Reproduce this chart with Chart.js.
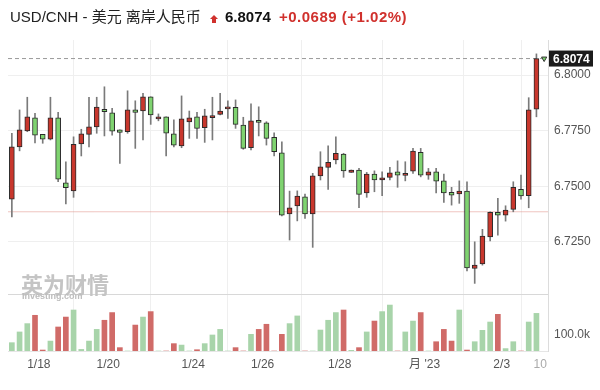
<!DOCTYPE html>
<html>
<head>
<meta charset="utf-8">
<script src="https://cdn.jsdelivr.net/npm/chart.js@4.4.1/dist/chart.umd.min.js"></script>
<style>
  body { margin: 0; background: #fff; font-family: "Liberation Sans", "Noto Sans CJK SC", sans-serif; }
  #wrap { position: relative; width: 600px; height: 390px; overflow: hidden; }
  #chart { position: absolute; left: 0; top: 0; }
  .t { position: absolute; white-space: nowrap; line-height: 18px; top: 8px; }
  #name { left: 10px; font-size: 15px; color: #222; }
  #arrow { position: absolute; left: 210px; top: 15px; }
  #last { left: 225px; font-size: 15px; font-weight: bold; color: #111; }
  #chg { left: 279px; font-size: 15px; font-weight: 600; color: #d0312d; letter-spacing: 0.5px; }
  #wm1 { position: absolute; left: 21px; top: 267px; font-size: 22px; font-weight: bold; color: #c4c4c4; }
  #wm2 { position: absolute; left: 22px; top: 291px; font-size: 9px; font-weight: bold; color: #bdbdbd; }
</style>
</head>
<body>
<div id="wrap">
  <canvas id="chart" width="600" height="390"></canvas>
  <div class="t" id="name">USD/CNH - 美元 离岸人民币</div>
  <svg id="arrow" width="8" height="8" viewBox="0 0 8 8"><polygon points="4,0 8,4 6,4 6,8 2,8 2,4 0,4" fill="#d0312d"/></svg>
  <div class="t" id="last">6.8074</div>
  <div class="t" id="chg">+0.0689 (+1.02%)</div>
  <div id="wm1">英为财情</div>
  <div id="wm2">Investing.com</div>
</div>
<script>
// candles, oldest first
const opens  = [6.7442,6.7677,6.7749,6.7808,6.7733,6.7711,6.7808,6.7515,6.7479,6.7690,
                6.7733,6.7767,6.7846,6.7830,6.7753,6.7745,6.7843,6.7838,6.7902,6.7802,
                6.7812,6.7735,6.7681,6.7789,6.7812,6.7763,6.7808,6.7823,6.7848,6.7855,
                6.7775,6.7673,6.7796,6.7785,6.7720,6.7650,6.7375,6.7411,6.7452,6.7375,
                6.7546,6.7585,6.7618,6.7645,6.7562,6.7573,6.7470,6.7555,6.7528,6.7540,
                6.7565,6.7549,6.7568,6.7652,6.7550,6.7565,6.7524,6.7472,6.7465,6.7478,
                6.7130,6.7150,6.7272,6.7382,6.7370,6.7396,6.7486,6.7457,6.7846];
const highs  = [6.7738,6.7843,6.7900,6.7828,6.7733,6.7900,6.7832,6.7610,6.7722,6.7756,
                6.7900,6.7900,6.7947,6.7850,6.7753,6.7929,6.7884,6.7918,6.7902,6.7825,
                6.7812,6.7798,6.7906,6.7838,6.7832,6.7846,6.7900,6.7918,6.7884,6.7888,
                6.7810,6.7870,6.7857,6.7790,6.7740,6.7700,6.7478,6.7479,6.7465,6.7558,
                6.7655,6.7681,6.7722,6.7648,6.7573,6.7580,6.7562,6.7569,6.7565,6.7585,
                6.7614,6.7610,6.7670,6.7670,6.7580,6.7580,6.7555,6.7495,6.7524,6.7520,
                6.7250,6.7306,6.7385,6.7445,6.7412,6.7520,6.7550,6.7898,6.8095];
const lows   = [6.7362,6.7659,6.7745,6.7695,6.7693,6.7708,6.7520,6.7420,6.7450,6.7636,
                6.7677,6.7738,6.7726,6.7730,6.7603,6.7738,6.7670,6.7708,6.7778,6.7794,
                6.7636,6.7677,6.7673,6.7715,6.7715,6.7697,6.7708,6.7820,6.7805,6.7760,
                6.7666,6.7663,6.7726,6.7685,6.7636,6.7366,6.7258,6.7344,6.7355,6.7225,
                6.7528,6.7486,6.7600,6.7540,6.7562,6.7403,6.7450,6.7475,6.7457,6.7528,
                6.7495,6.7524,6.7558,6.7542,6.7531,6.7470,6.7427,6.7415,6.7423,6.7119,
                6.7063,6.7145,6.7254,6.7280,6.7343,6.7385,6.7442,6.7403,6.7812];
const closes = [6.7677,6.7753,6.7812,6.7730,6.7712,6.7808,6.7532,6.7493,6.7688,6.7735,
                6.7767,6.7856,6.7835,6.7748,6.7742,6.7843,6.7832,6.7902,6.7820,6.7812,
                6.7738,6.7684,6.7803,6.7808,6.7760,6.7816,6.7817,6.7838,6.7857,6.7778,
                6.7670,6.7794,6.7787,6.7715,6.7655,6.7370,6.7403,6.7456,6.7375,6.7547,
                6.7587,6.7607,6.7648,6.7569,6.7573,6.7463,6.7555,6.7528,6.7538,6.7560,
                6.7550,6.7558,6.7658,6.7550,6.7565,6.7523,6.7470,6.7460,6.7478,6.7133,
                6.7145,6.7276,6.7382,6.7370,6.7393,6.7495,6.7456,6.7843,6.8074];
const volumes = [52,119,171,223,6,62,150,212,256,10,
                 62,135,192,240,21,0,162,212,246,0,
                 0,46,37,0,8,46,100,135,0,21,
                 0,104,135,167,0,104,171,219,0,0,
                 131,192,240,256,4,21,119,187,246,287,
                 0,119,187,240,0,58,135,62,256,6,
                 58,129,181,229,15,58,0,181,235].map(v => v * 1000);

const prevClose = 6.7385;
const priceTicks = [6.725, 6.75, 6.775, 6.8];
const volTicks = [100000];
const xTickPos = [3.5, 12.5, 23.5, 32.5, 42.5, 53.5, 63.5, 68.5];
const xTickLabels = ["1/18", "1/20", "1/24", "1/26", "1/28", "月 '23", "2/3", "10"];

const UP = "#c8372d", DOWN = "#7fd370";
const VUP = "#a8d4aa", VDOWN = "#d06b68";

const idx = closes.map((c, i) => i);
const isUp = idx.map(i => closes[i] >= opens[i]);
const lastClose = closes[closes.length - 1];

const bodies = idx.map(i => ({ x: i, y: [opens[i], closes[i]] }));
const wicks = idx.map(i => ({ x: i, y: [lows[i], highs[i]] }));
const vols = idx.map(i => ({ x: i, y: volumes[i] }));

Chart.defaults.font.family = "'Liberation Sans', 'Noto Sans CJK SC', sans-serif";

const paneLines = {
  id: "paneLines",
  afterDraw(chart) {
    const { ctx, chartArea, scales } = chart;
    ctx.save();
    ctx.strokeStyle = "#d8d8d8";
    ctx.lineWidth = 1;
    ctx.beginPath();
    ctx.moveTo(chartArea.left, Math.round(scales.yv.top) + 0.5);
    ctx.lineTo(chartArea.right, Math.round(scales.yv.top) + 0.5);
    ctx.stroke();
    // last price tag
    const y = scales.y.getPixelForValue(lastClose);
    ctx.fillStyle = "#1b1b1b";
    ctx.fillRect(chartArea.right + 1, y - 8, 44, 16);
    ctx.fillStyle = "#fff";
    ctx.font = "bold 12px 'Liberation Sans', sans-serif";
    ctx.textBaseline = "middle";
    ctx.fillText(lastClose.toFixed(4), chartArea.right + 5, y + 1);
    ctx.restore();
  }
};

new Chart(document.getElementById("chart"), {
  type: "bar",
  data: {
    datasets: [
      {
        type: "line",
        data: [{ x: -0.5, y: lastClose }, { x: 68.8, y: lastClose }],
        borderColor: "#9a9a9a",
        borderWidth: 1,
        borderDash: [4, 3],
        pointRadius: 0,
        yAxisID: "y",
        order: 5,
      },
      {
        type: "line",
        data: [{ x: -0.5, y: prevClose }, { x: 69.5, y: prevClose }],
        borderColor: "rgba(226,150,140,0.55)",
        borderWidth: 1,
        pointRadius: 0,
        yAxisID: "y",
        order: 6,
      },
      {
        type: "scatter",
        data: [{ x: 69, y: lastClose }],
        pointStyle: "triangle",
        rotation: 180,
        radius: 3,
        backgroundColor: DOWN,
        borderColor: "#333",
        borderWidth: 1,
        yAxisID: "y",
        order: 0,
      },
      {
        data: wicks,
        backgroundColor: "#7a7a7a",
        borderWidth: 0,
        barThickness: 1,
        grouped: false,
        yAxisID: "y",
        order: 3,
      },
      {
        data: bodies,
        backgroundColor: idx.map(i => isUp[i] ? UP : DOWN),
        borderColor: "#2a2a2a",
        borderWidth: 1,
        borderSkipped: false,
        barThickness: 5,
        minBarLength: 2,
        grouped: false,
        yAxisID: "y",
        order: 1,
      },
      {
        data: vols,
        backgroundColor: idx.map(i => isUp[i] ? VUP : VDOWN),
        borderWidth: 0,
        barThickness: 5,
        grouped: false,
        yAxisID: "yv",
        order: 4,
      },
    ],
  },
  options: {
    responsive: false,
    animation: false,
    devicePixelRatio: 1,
    layout: { padding: { top: 40, left: 8, right: 0, bottom: 0 } },
    plugins: { legend: { display: false }, tooltip: { enabled: false } },
    scales: {
      x: {
        type: "linear",
        min: -0.5,
        max: 69.5,
        offset: false,
        afterBuildTicks: s => { s.ticks = xTickPos.map(v => ({ value: v })); },
        afterFit: s => { s.height = 39; },
        ticks: {
          autoSkip: false,
          maxRotation: 0,
          padding: 6,
          font: { size: 12 },
          color: c => c.index === xTickLabels.length - 1 ? "#aaa" : "#555",
          callback: (v, i) => xTickLabels[i],
        },
        grid: { color: "#efefef", drawTicks: false },
        border: { color: "#e6e6e6" },
      },
      y: {
        position: "right",
        stack: "pane",
        stackWeight: 254,
        min: 6.70153,
        max: 6.81574,
        afterBuildTicks: s => { s.ticks = priceTicks.map(v => ({ value: v })); },
        afterFit: s => { s.width = 52; },
        ticks: {
          padding: 6,
          font: { size: 12 },
          color: "#555",
          callback: v => v.toFixed(4),
        },
        grid: { color: "#efefef", drawTicks: false },
        border: { color: "#dcdcdc" },
      },
      yv: {
        position: "right",
        stack: "pane",
        stackWeight: 57,
        min: 0,
        max: 356000,
        afterBuildTicks: s => { s.ticks = volTicks.map(v => ({ value: v })); },
        afterFit: s => { s.width = 52; },
        ticks: {
          padding: 6,
          font: { size: 12 },
          color: "#555",
          callback: v => (v / 1000).toFixed(1) + "k",
        },
        grid: { display: false, drawTicks: false },
        border: { color: "#dcdcdc" },
      },
    },
  },
  plugins: [paneLines],
});
</script>
</body>
</html>
